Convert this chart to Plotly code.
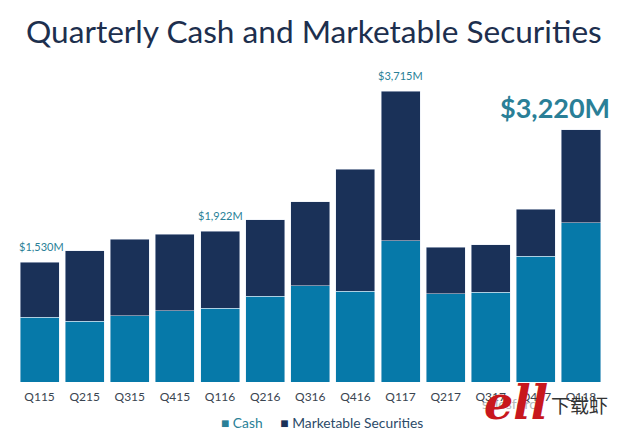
import plotly.graph_objects as go

# values in $M
quarters = ['Q115', 'Q215', 'Q315', 'Q415', 'Q116', 'Q216', 'Q316', 'Q416', 'Q117', 'Q217', 'Q317', 'Q417', 'Q118']
cash = [830, 773, 843, 907, 945, 1098, 1226, 1162, 1801, 1124, 1149, 1609, 2031]
securities = [700, 900, 983, 983, 977, 971, 1073, 1558, 1914, 600, 601, 600, 1189]

callout_quarters = ['Q115', 'Q116', 'Q117', 'Q118']
callout_totals = [1530, 1922, 3715, 3220]

FONT = 'Lato'
NAVY = '#1a3158'
BLUE = '#0679a9'
TEAL = '#2a7f97'

fig = go.Figure()
fig.add_trace(go.Bar(x=quarters, y=cash, name='Cash', marker_color=BLUE))
fig.add_trace(go.Bar(x=quarters, y=securities, name='Marketable Securities', marker_color=NAVY))

for q, total in zip(callout_quarters, callout_totals):
    big = q == 'Q118'
    fig.add_annotation(
        x=q, y=total, text=f'<b>${total:,}M</b>' if big else f'${total:,}M',
        showarrow=False, yanchor='bottom',
        xshift=-26 if big else (2 if q == 'Q115' else 0), yshift=4 if big else 7,
        font=dict(family=FONT, size=27 if big else 11, color=TEAL),
    )

# small square keys, plotly's own legend swatches come out too big and too far apart
fig.add_annotation(
    xref='paper', yref='paper', x=0.512, y=-0.137, showarrow=False,
    text=(
        f'<span style="color:{TEAL}">■ Cash</span>'
        f'     <span style="color:{NAVY}">■</span>'
        ' <span style="color:#2c4a68">Marketable Securities</span>'
    ),
    font=dict(family=FONT, size=13.8),
)

# watermark over the bottom right corner
fig.add_annotation(
    xref='paper', yref='paper', x=0.888, y=-0.086, text='salesforce', showarrow=False,
    font=dict(family=FONT, size=14, color='#b5b9bd'),
)
fig.add_annotation(
    xref='paper', yref='paper', x=0.896, y=-0.134, text='<b><i>ell</i></b>', showarrow=False,
    font=dict(family='DejaVu Serif', size=46, color='#c8171d'),
)
fig.add_annotation(
    xref='paper', yref='paper', x=0.997, y=-0.102, text='下载虾', showarrow=False,
    font=dict(family='Noto Sans CJK SC', size=19, color='#333333'),
)

fig.update_layout(
    width=616, height=427,
    barmode='stack', bargap=0.135,
    paper_bgcolor='white', plot_bgcolor='white',
    margin=dict(l=9, r=12, t=0, b=53, autoexpand=False),
    font=dict(family=FONT, color='#3a4450'),
    title=dict(
        text='Quarterly Cash and Marketable Securities',
        x=0.499, xanchor='center', xref='paper', y=0.944, yanchor='middle',
        font=dict(family=FONT, size=31.6, color='#1d2f4e'),
    ),
    xaxis=dict(showgrid=False, showline=False, ticks='', ticklabelstandoff=6, tickfont=dict(size=12, color='#3a4450')),
    yaxis=dict(visible=False, range=[0, 4776]),
    showlegend=False,
)

fig.write_html('out.html', config={'displayModeBar': False})
